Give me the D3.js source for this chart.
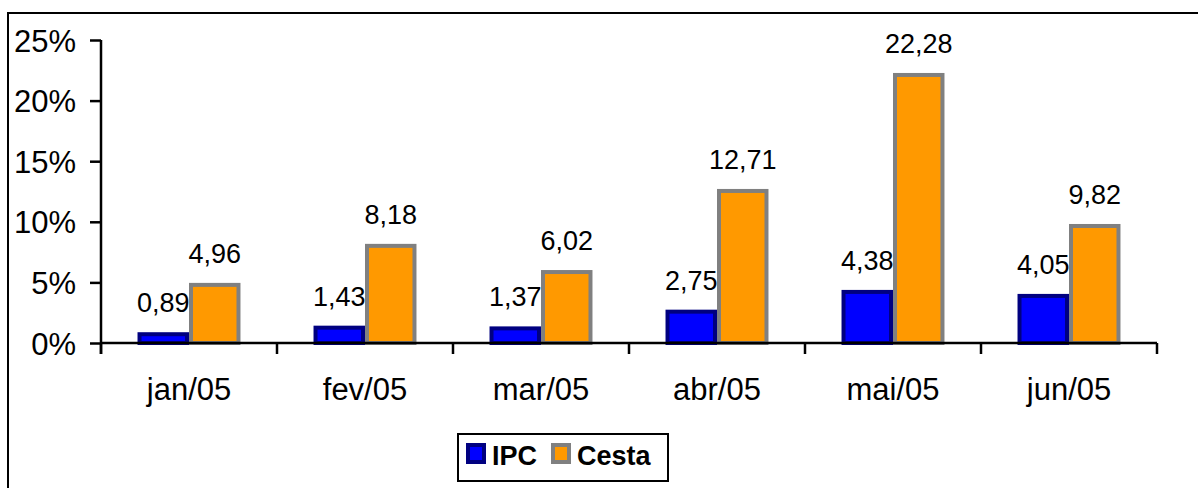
<!DOCTYPE html>
<html><head><meta charset="utf-8">
<script src="https://cdn.jsdelivr.net/npm/d3@7"></script>
<style>body{margin:0;background:#fff}svg{display:block}text{font-family:Arial,"Liberation Sans",sans-serif}</style>
</head><body>
<svg id="c" width="1198" height="488"></svg>
<script>
const categories = ["jan/05","fev/05","mar/05","abr/05","mai/05","jun/05"];
const ipc   = [0.89, 1.43, 1.37, 2.75, 4.38, 4.05];
const cesta = [4.96, 8.18, 6.02, 12.71, 22.28, 9.82];
const seriesNames = ["IPC","Cesta"];
const yTicks = [0,5,10,15,20,25];

const svg = d3.select("#c");
svg.append("rect").attr("x",8).attr("y",13).attr("width",1200).attr("height",490)
  .attr("fill","#fff").attr("stroke","#000").attr("stroke-width",2);

const x0 = d3.scaleBand().domain(categories).range([101,1157]).paddingInner(0.415).paddingOuter(0.2075);
const x1 = d3.scaleBand().domain(seriesNames).range([0,x0.bandwidth()]);
const y = d3.scaleLinear().domain([0,25]).range([343,40]);

const fmt = v => v.toFixed(2).replace(".",",");
const data = categories.map((c,i)=>({c, vals:[{s:"IPC",v:ipc[i]},{s:"Cesta",v:cesta[i]}]}));
const style = {IPC:{fill:"#0000FF",stroke:"#000080"},Cesta:{fill:"#FF9900",stroke:"#808080"}};

const g = svg.selectAll("g.grp").data(data).enter().append("g").attr("class","grp")
  .attr("transform",d=>`translate(${x0(d.c)},0)`);
g.selectAll("rect").data(d=>d.vals).enter().append("rect")
  .attr("x",d=>x1(d.s)+2).attr("width",x1.bandwidth()-4)
  .attr("y",d=>y(d.v)+2).attr("height",d=>Math.max(0,y(0)-y(d.v)-2))
  .attr("fill",d=>style[d.s].fill).attr("stroke",d=>style[d.s].stroke).attr("stroke-width",4);
g.selectAll("text").data(d=>d.vals).enter().append("text")
  .attr("x",d=>x1(d.s)+x1.bandwidth()/2).attr("y",d=>y(d.v)-20)
  .attr("text-anchor","middle").attr("font-size",27).attr("fill","#000").text(d=>fmt(d.v));

// axes
const yAxis = d3.axisLeft(y).tickValues(yTicks).tickFormat(d=>d+"%").tickSize(11).tickPadding(14);
const ya = svg.append("g").attr("transform","translate(101,0)").call(yAxis);
ya.select(".domain").attr("d","M0,40V354").attr("stroke","#000").attr("stroke-width",2.5);
ya.selectAll(".tick line").attr("stroke","#000").attr("stroke-width",2.5);
ya.selectAll(".tick text").attr("font-size",31).attr("fill","#000").attr("dy","0.36em")
  .attr("font-family","Arial,'Liberation Sans',sans-serif");

svg.append("line").attr("x1",101).attr("x2",1157).attr("y1",343).attr("y2",343).attr("stroke","#000").attr("stroke-width",2.5);
const bounds = d3.range(categories.length+1).map(i=>101+i*x0.step());
svg.selectAll("line.xt").data(bounds).enter().append("line").attr("class","xt")
  .attr("x1",d=>d).attr("x2",d=>d).attr("y1",343).attr("y2",354).attr("stroke","#000").attr("stroke-width",2.5);
svg.selectAll("text.cat").data(categories).enter().append("text").attr("class","cat")
  .attr("x",d=>x0(d)+x0.bandwidth()/2).attr("y",400).attr("text-anchor","middle")
  .attr("font-size",31).attr("fill","#000").text(d=>d);

// legend
const lg = svg.append("g");
lg.append("rect").attr("x",458).attr("y",434).attr("width",210).attr("height",47)
  .attr("fill","#fff").attr("stroke","#000").attr("stroke-width",2);
const items = [{s:"IPC",x:466,tx:492},{s:"Cesta",x:551,tx:577}];
items.forEach(it=>{
  lg.append("rect").attr("x",it.x+2).attr("y",445).attr("width",16).attr("height",17)
    .attr("fill",style[it.s].fill).attr("stroke",style[it.s].stroke).attr("stroke-width",4);
  lg.append("text").attr("x",it.tx).attr("y",465).attr("font-size",27).attr("font-weight","bold")
    .attr("fill","#000").text(it.s);
});
</script>
</body></html>
